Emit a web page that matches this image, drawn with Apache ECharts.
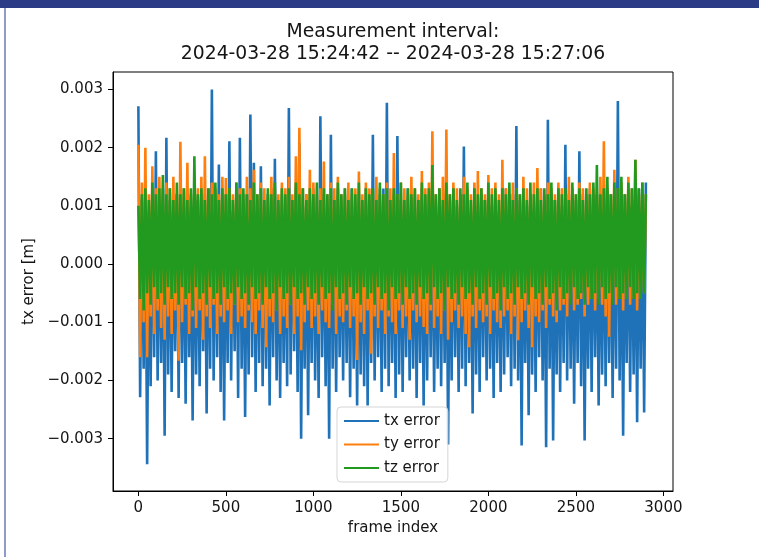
<!DOCTYPE html>
<html><head><meta charset="utf-8">
<script src="https://cdn.jsdelivr.net/npm/echarts@6/dist/echarts.min.js"></script>
<style>
html,body{margin:0;padding:0;background:#fff;}
#chart{position:absolute;left:0;top:0;width:759px;height:557px;}
#topbar{position:absolute;left:0;top:0;width:759px;height:8px;background:#2b3b86;}
#leftline{position:absolute;left:4px;top:8px;width:2px;height:549px;background:#8d9bcc;}
</style></head><body>
<div id="chart"></div><div id="topbar"></div><div id="leftline"></div>
<script>
const titleLines = ["Measurement interval:", "2024-03-28 15:24:42 -- 2024-03-28 15:27:06"];
const seriesNames = ["tx error", "ty error", "tz error"];
const xTicks = [0, 500, 1000, 1500, 2000, 2500, 3000];
const yTicks = [-0.003, -0.002, -0.001, 0, 0.001, 0.002, 0.003];

const frameIndex = [
0,10,20,30,40,50,60,70,80,90,100,110,120,130,140,150,160,170,180,190,
200,210,220,230,240,250,260,270,280,290,300,310,320,330,340,350,360,370,380,390,
400,410,420,430,440,450,460,470,480,490,500,510,520,530,540,550,560,570,580,590,
600,610,620,630,640,650,660,670,680,690,700,710,720,730,740,750,760,770,780,790,
800,810,820,830,840,850,860,870,880,890,900,910,920,930,940,950,960,970,980,990,
1000,1010,1020,1030,1040,1050,1060,1070,1080,1090,1100,1110,1120,1130,1140,1150,1160,1170,1180,1190,
1200,1210,1220,1230,1240,1250,1260,1270,1280,1290,1300,1310,1320,1330,1340,1350,1360,1370,1380,1390,
1400,1410,1420,1430,1440,1450,1460,1470,1480,1490,1500,1510,1520,1530,1540,1550,1560,1570,1580,1590,
1600,1610,1620,1630,1640,1650,1660,1670,1680,1690,1700,1710,1720,1730,1740,1750,1760,1770,1780,1790,
1800,1810,1820,1830,1840,1850,1860,1870,1880,1890,1900,1910,1920,1930,1940,1950,1960,1970,1980,1990,
2000,2010,2020,2030,2040,2050,2060,2070,2080,2090,2100,2110,2120,2130,2140,2150,2160,2170,2180,2190,
2200,2210,2220,2230,2240,2250,2260,2270,2280,2290,2300,2310,2320,2330,2340,2350,2360,2370,2380,2390,
2400,2410,2420,2430,2440,2450,2460,2470,2480,2490,2500,2510,2520,2530,2540,2550,2560,2570,2580,2590,
2600,2610,2620,2630,2640,2650,2660,2670,2680,2690,2700,2710,2720,2730,2740,2750,2760,2770,2780,2790,
2800,2810,2820,2830,2840,2850,2860,2870,2880,2890,2900];

const txError = [
2.71e-3,-2.29e-3,1.1e-3,-1.8e-3,1.3e-3,-3.44e-3,0.9e-3,-2.1e-3,1.2e-3,-1.6e-3,
1.94e-3,-2.0e-3,1.0e-3,-1.7e-3,1.3e-3,-2.95e-3,2.17e-3,-1.9e-3,1.1e-3,-2.2e-3,
0.8e-3,-1.5e-3,1.2e-3,-2.3e-3,1.4e-3,-1.7e-3,1.0e-3,-2.4e-3,1.2e-3,-1.6e-3,
0.9e-3,-2.69e-3,1.3e-3,-1.9e-3,1.1e-3,-2.1e-3,1.0e-3,-1.5e-3,1.2e-3,-2.57e-3,
1.3e-3,-1.8e-3,3.0e-3,-2.0e-3,1.0e-3,-1.6e-3,1.71e-3,-2.2e-3,1.1e-3,-2.69e-3,
1.2e-3,-1.7e-3,2.11e-3,-2.0e-3,0.9e-3,-1.5e-3,1.3e-3,-2.3e-3,2.17e-3,-1.8e-3,
1.0e-3,-2.63e-3,1.2e-3,-1.9e-3,2.57e-3,-1.6e-3,1.74e-3,-2.2e-3,1.1e-3,-1.7e-3,
1.68e-3,-2.1e-3,1.0e-3,-1.8e-3,1.2e-3,-2.43e-3,1.3e-3,-1.6e-3,1.81e-3,-2.0e-3,
1.0e-3,-2.3e-3,1.2e-3,-1.7e-3,0.9e-3,-2.1e-3,2.68e-3,-1.9e-3,1.1e-3,-1.5e-3,
1.3e-3,-2.2e-3,2.08e-3,-3.0e-3,1.0e-3,-1.8e-3,1.2e-3,-2.6e-3,1.1e-3,-1.7e-3,
1.3e-3,-2.0e-3,0.9e-3,-2.3e-3,2.54e-3,-1.6e-3,1.2e-3,-2.1e-3,1.0e-3,-3.0e-3,
2.22e-3,-1.8e-3,1.1e-3,-2.2e-3,1.3e-3,-1.6e-3,1.0e-3,-2.0e-3,1.2e-3,-1.7e-3,
1.1e-3,-2.29e-3,1.3e-3,-1.8e-3,0.9e-3,-2.43e-3,1.2e-3,-1.9e-3,1.0e-3,-2.1e-3,
1.3e-3,-2.43e-3,1.1e-3,-1.7e-3,2.22e-3,-2.0e-3,1.0e-3,-1.6e-3,1.2e-3,-2.2e-3,
1.3e-3,-1.8e-3,2.77e-3,-2.1e-3,1.0e-3,-1.7e-3,1.2e-3,-2.3e-3,2.2e-3,-1.9e-3,
1.1e-3,-2.2e-3,0.9e-3,-1.6e-3,1.3e-3,-2.0e-3,1.0e-3,-1.8e-3,1.2e-3,-2.3e-3,
1.1e-3,-1.7e-3,1.3e-3,-2.43e-3,1.0e-3,-2.0e-3,1.2e-3,-1.6e-3,1.1e-3,-2.2e-3,
0.9e-3,-1.8e-3,1.3e-3,-2.1e-3,1.0e-3,-1.7e-3,1.2e-3,-3.1e-3,1.1e-3,-2.0e-3,
1.3e-3,-1.6e-3,1.0e-3,-2.2e-3,1.2e-3,-1.8e-3,2.02e-3,-2.1e-3,1.1e-3,-1.7e-3,
0.9e-3,-2.57e-3,1.3e-3,-1.9e-3,1.0e-3,-2.2e-3,1.2e-3,-1.6e-3,1.1e-3,-2.0e-3,
1.3e-3,-1.8e-3,1.0e-3,-2.3e-3,1.2e-3,-1.7e-3,0.9e-3,-2.2e-3,1.1e-3,-1.9e-3,
1.3e-3,-1.6e-3,1.0e-3,-2.1e-3,1.2e-3,-1.8e-3,2.37e-3,-2.0e-3,1.1e-3,-3.12e-3,
1.3e-3,-1.7e-3,1.0e-3,-2.6e-3,1.2e-3,-1.9e-3,0.9e-3,-2.2e-3,1.1e-3,-1.6e-3,
1.3e-3,-2.0e-3,1.0e-3,-3.15e-3,2.48e-3,-1.8e-3,1.2e-3,-3.03e-3,1.1e-3,-1.9e-3,
1.3e-3,-2.2e-3,1.0e-3,-1.7e-3,2.05e-3,-2.0e-3,1.2e-3,-1.8e-3,0.9e-3,-2.4e-3,
1.1e-3,-1.7e-3,1.94e-3,-2.1e-3,1.2e-3,-3.03e-3,1.0e-3,-1.8e-3,1.3e-3,-2.2e-3,
1.1e-3,-1.6e-3,1.2e-3,-2.43e-3,0.9e-3,-1.9e-3,1.3e-3,-2.1e-3,1.0e-3,-1.7e-3,
1.2e-3,-2.3e-3,1.1e-3,-1.8e-3,2.8e-3,-2.0e-3,1.0e-3,-2.95e-3,1.2e-3,-1.7e-3,
1.3e-3,-2.2e-3,1.0e-3,-1.9e-3,1.1e-3,-2.72e-3,1.3e-3,-1.8e-3,1.2e-3,-2.55e-3,
1.4e-3];

const tyError = [
2.05e-3,-1.6e-3,1.4e-3,-1.0e-3,2.0e-3,-1.6e-3,1.2e-3,-0.9e-3,1.68e-3,-1.2e-3,
1.3e-3,-0.8e-3,1.5e-3,-1.1e-3,1.2e-3,-1.3e-3,1.4e-3,-0.9e-3,1.3e-3,-1.2e-3,
1.5e-3,-0.8e-3,1.2e-3,-1.66e-3,2.1e-3,-1.0e-3,1.3e-3,-0.7e-3,1.74e-3,-1.2e-3,
1.2e-3,-0.9e-3,1.4e-3,-1.1e-3,1.3e-3,-0.8e-3,1.5e-3,-1.3e-3,1.85e-3,-0.9e-3,
1.2e-3,-1.1e-3,1.4e-3,-0.7e-3,1.3e-3,-1.2e-3,1.2e-3,-0.9e-3,1.5e-3,-1.0e-3,
1.48e-3,-0.8e-3,1.3e-3,-1.2e-3,1.2e-3,-0.7e-3,1.4e-3,-1.0e-3,1.3e-3,-0.9e-3,
1.2e-3,-1.1e-3,1.5e-3,-0.8e-3,1.3e-3,-1.0e-3,1.62e-3,-1.2e-3,1.2e-3,-0.8e-3,
1.4e-3,-1.1e-3,1.3e-3,-1.43e-3,1.2e-3,-0.9e-3,1.5e-3,-1.0e-3,1.3e-3,-0.8e-3,
1.2e-3,-1.2e-3,1.4e-3,-0.9e-3,1.3e-3,-1.1e-3,1.5e-3,-0.7e-3,1.2e-3,-1.2e-3,
1.85e-3,-0.9e-3,2.34e-3,-1.48e-3,1.3e-3,-1.0e-3,1.2e-3,-0.8e-3,1.62e-3,-1.1e-3,
1.4e-3,-0.9e-3,1.2e-3,-1.2e-3,1.3e-3,-0.8e-3,1.76e-3,-1.0e-3,1.2e-3,-1.1e-3,
1.4e-3,-0.7e-3,1.3e-3,-1.2e-3,1.5e-3,-0.9e-3,1.2e-3,-1.0e-3,1.3e-3,-0.8e-3,
1.4e-3,-1.1e-3,1.2e-3,-0.9e-3,1.3e-3,-1.65e-3,1.59e-3,-1.0e-3,1.2e-3,-1.2e-3,
1.4e-3,-0.8e-3,1.3e-3,-1.54e-3,1.2e-3,-0.9e-3,1.5e-3,-1.1e-3,1.3e-3,-0.8e-3,
1.2e-3,-1.2e-3,1.4e-3,-0.9e-3,1.3e-3,-1.0e-3,1.91e-3,-1.2e-3,1.2e-3,-0.8e-3,
1.4e-3,-1.1e-3,1.3e-3,-0.9e-3,1.2e-3,-1.3e-3,1.5e-3,-0.8e-3,1.3e-3,-1.0e-3,
1.2e-3,-0.9e-3,1.6e-3,-1.08e-3,1.3e-3,-1.2e-3,1.4e-3,-0.8e-3,2.28e-3,-1.1e-3,
1.2e-3,-0.9e-3,1.3e-3,-1.2e-3,1.5e-3,-0.8e-3,2.31e-3,-1.3e-3,1.2e-3,-1.0e-3,
1.4e-3,-0.8e-3,1.3e-3,-1.1e-3,1.2e-3,-0.9e-3,1.5e-3,-1.2e-3,1.3e-3,-1.43e-3,
1.2e-3,-0.9e-3,1.4e-3,-1.1e-3,1.6e-3,-0.8e-3,1.3e-3,-1.0e-3,1.2e-3,-0.9e-3,
1.53e-3,-1.2e-3,1.3e-3,-0.8e-3,1.4e-3,-1.0e-3,1.2e-3,-1.1e-3,1.79e-3,-0.9e-3,
1.3e-3,-0.8e-3,1.2e-3,-1.2e-3,1.4e-3,-0.9e-3,1.3e-3,-1.31e-3,1.2e-3,-1.0e-3,
1.5e-3,-0.8e-3,1.3e-3,-1.1e-3,1.2e-3,-1.43e-3,1.4e-3,-0.9e-3,1.65e-3,-1.0e-3,
1.3e-3,-0.8e-3,1.2e-3,-1.1e-3,1.4e-3,-0.7e-3,1.3e-3,-0.9e-3,1.2e-3,-1.0e-3,
1.4e-3,-0.8e-3,1.3e-3,-0.7e-3,1.2e-3,-0.9e-3,1.5e-3,-0.6e-3,1.3e-3,-0.8e-3,
1.2e-3,-0.7e-3,1.4e-3,-0.6e-3,1.3e-3,-0.9e-3,1.2e-3,-0.7e-3,1.4e-3,-0.6e-3,
1.3e-3,-0.8e-3,1.2e-3,-0.6e-3,1.5e-3,-0.7e-3,2.11e-3,-0.9e-3,1.3e-3,-1.25e-3,
1.2e-3,-0.6e-3,1.62e-3,-0.7e-3,1.3e-3,-0.6e-3,1.4e-3,-0.8e-3,1.2e-3,-0.6e-3,
1.5e-3,-0.7e-3,1.3e-3,-0.6e-3,1.79e-3,-0.8e-3,1.2e-3,-0.6e-3,1.4e-3,-0.5e-3,
1.2e-3];

const tzError = [
1.0e-3,-0.6e-3,1.2e-3,-0.8e-3,1.3e-3,-0.5e-3,1.1e-3,-0.7e-3,1.4e-3,-0.4e-3,
1.2e-3,-0.6e-3,1.3e-3,-0.5e-3,1.53e-3,-0.7e-3,1.2e-3,-0.4e-3,1.3e-3,-0.6e-3,
1.1e-3,-0.5e-3,1.4e-3,-0.7e-3,1.2e-3,-0.4e-3,1.3e-3,-0.6e-3,1.1e-3,-0.5e-3,
1.3e-3,-0.8e-3,1.85e-3,-0.4e-3,1.2e-3,-0.6e-3,1.3e-3,-0.5e-3,1.1e-3,-0.7e-3,
1.3e-3,-0.4e-3,1.2e-3,-0.6e-3,1.4e-3,-0.5e-3,1.1e-3,-0.7e-3,1.3e-3,-0.4e-3,
1.2e-3,-0.6e-3,1.3e-3,-0.5e-3,1.1e-3,-0.7e-3,1.4e-3,-0.4e-3,1.2e-3,-0.6e-3,
1.3e-3,-0.5e-3,1.2e-3,-0.7e-3,1.1e-3,-0.4e-3,1.4e-3,-0.6e-3,1.2e-3,-0.5e-3,
1.3e-3,-0.7e-3,1.1e-3,-0.4e-3,1.3e-3,-0.6e-3,1.2e-3,-0.5e-3,1.4e-3,-0.8e-3,
1.1e-3,-0.4e-3,1.3e-3,-0.6e-3,1.2e-3,-0.5e-3,1.3e-3,-0.7e-3,1.1e-3,-0.4e-3,
1.4e-3,-0.6e-3,1.2e-3,-0.5e-3,1.3e-3,-0.7e-3,1.1e-3,-0.4e-3,1.3e-3,-0.6e-3,
1.2e-3,-0.5e-3,1.4e-3,-0.7e-3,1.1e-3,-0.4e-3,1.3e-3,-0.6e-3,1.2e-3,-0.5e-3,
1.3e-3,-0.8e-3,1.1e-3,-0.4e-3,1.4e-3,-0.6e-3,1.2e-3,-0.5e-3,1.3e-3,-0.7e-3,
1.1e-3,-0.4e-3,1.3e-3,-0.6e-3,1.2e-3,-0.5e-3,1.4e-3,-0.7e-3,1.1e-3,-0.4e-3,
1.3e-3,-0.6e-3,1.2e-3,-0.5e-3,1.3e-3,-0.7e-3,1.1e-3,-0.4e-3,1.4e-3,-0.6e-3,
1.2e-3,-0.5e-3,1.3e-3,-0.8e-3,1.1e-3,-0.4e-3,1.3e-3,-0.6e-3,1.2e-3,-0.5e-3,
1.4e-3,-0.7e-3,1.1e-3,-0.4e-3,1.3e-3,-0.6e-3,1.2e-3,-0.5e-3,1.3e-3,-0.7e-3,
1.1e-3,-0.4e-3,1.4e-3,-0.6e-3,1.2e-3,-0.5e-3,1.3e-3,-0.7e-3,1.7e-3,-0.4e-3,
1.2e-3,-0.6e-3,1.3e-3,-0.5e-3,1.1e-3,-0.8e-3,1.4e-3,-0.4e-3,1.2e-3,-0.6e-3,
1.3e-3,-0.5e-3,1.1e-3,-0.7e-3,1.3e-3,-0.4e-3,1.2e-3,-0.6e-3,1.4e-3,-0.5e-3,
1.1e-3,-0.7e-3,1.3e-3,-0.4e-3,1.2e-3,-0.6e-3,1.3e-3,-0.5e-3,1.1e-3,-0.7e-3,
1.4e-3,-0.4e-3,1.2e-3,-0.6e-3,1.3e-3,-0.5e-3,1.1e-3,-0.8e-3,1.3e-3,-0.4e-3,
1.2e-3,-0.6e-3,1.4e-3,-0.5e-3,1.1e-3,-0.7e-3,1.3e-3,-0.4e-3,1.2e-3,-0.6e-3,
1.3e-3,-0.5e-3,1.1e-3,-0.7e-3,1.4e-3,-0.4e-3,1.2e-3,-0.6e-3,1.3e-3,-0.5e-3,
1.1e-3,-0.7e-3,1.3e-3,-0.4e-3,1.2e-3,-0.6e-3,1.4e-3,-0.5e-3,1.1e-3,-0.8e-3,
1.3e-3,-0.4e-3,1.2e-3,-0.6e-3,1.3e-3,-0.5e-3,1.1e-3,-0.7e-3,1.4e-3,-0.4e-3,
1.2e-3,-0.6e-3,1.3e-3,-0.5e-3,1.1e-3,-0.7e-3,1.3e-3,-0.4e-3,1.2e-3,-0.6e-3,
1.4e-3,-0.5e-3,1.7e-3,-0.7e-3,1.2e-3,-0.4e-3,1.3e-3,-0.6e-3,1.5e-3,-0.5e-3,
1.2e-3,-0.7e-3,1.4e-3,-0.4e-3,1.3e-3,-0.6e-3,1.5e-3,-0.5e-3,1.2e-3,-0.6e-3,
1.4e-3,-0.4e-3,1.3e-3,-0.6e-3,1.79e-3,-0.5e-3,1.3e-3,-0.6e-3,1.4e-3,-0.5e-3,
1.2e-3];

const seriesValues = [txError, tyError, tzError];
const colors = ['#1f72b8', '#ff7f0e', '#22991f'];
const FONT = 'DejaVu Sans';
const TXT = '#151515';

const chart = echarts.init(document.getElementById('chart'), null, {renderer: 'canvas'});
chart.setOption({
  animation: false,
  backgroundColor: 'transparent',
  graphic: titleLines.map((t, i) => ({
    type: 'text', x: 393, y: 32 + i * 22, silent: true,
    style: {text: t, align: 'center', verticalAlign: 'middle', fontSize: 18.8, fontFamily: FONT, fill: TXT}
  })),
  grid: {left: 113, right: 86, top: 72, bottom: 66, show: true, borderColor: '#000', borderWidth: 1, backgroundColor: 'transparent'},
  legend: {
    orient: 'vertical', left: 337, top: 407, itemWidth: 35, itemHeight: 2, itemGap: 6.5,
    icon: 'rect',
    data: seriesNames,
    textStyle: {fontSize: 15, lineHeight: 17, fontFamily: FONT, color: TXT},
    backgroundColor: 'rgba(255,255,255,0.8)', borderColor: '#d5d5d5', borderWidth: 1, borderRadius: 4,
    padding: [5.5, 8, 5.5, 7]
  },
  xAxis: {
    type: 'value', min: -145, max: 3055,
    name: 'frame index', nameLocation: 'middle', nameGap: 30,
    nameTextStyle: {fontSize: 15, fontFamily: FONT, color: TXT},
    axisLine: {show: true, onZero: false, lineStyle: {color: '#000', width: 1}},
    axisTick: {show: true, length: 5, customValues: xTicks, lineStyle: {color: '#000'}},
    axisLabel: {customValues: xTicks, margin: 10, fontSize: 15, fontFamily: FONT, color: TXT,
      formatter: v => String(v)},
    splitLine: {show: false}
  },
  yAxis: {
    type: 'value', min: -0.0039, max: 0.0033,
    name: 'tx error [m]', nameLocation: 'middle', nameGap: 74,
    nameTextStyle: {fontSize: 15, fontFamily: FONT, color: TXT},
    axisLine: {show: true, onZero: false, lineStyle: {color: '#000', width: 1}},
    axisTick: {show: true, length: 5, customValues: yTicks, lineStyle: {color: '#000'}},
    axisLabel: {customValues: yTicks, margin: 10, fontSize: 15, fontFamily: FONT, color: TXT,
      formatter: v => (v < 0 ? '\u2212' : '') + Math.abs(v).toFixed(3)},
    splitLine: {show: false}
  },
  series: seriesNames.map((name, k) => ({
    name, type: 'line', symbol: 'none', showSymbol: false, clip: true,
    data: frameIndex.map((f, i) => [f, seriesValues[k][i]]),
    lineStyle: {color: colors[k], width: 2.6},
    itemStyle: {color: colors[k]},
    emphasis: {disabled: true}
  }))
});
</script>
</body></html>
